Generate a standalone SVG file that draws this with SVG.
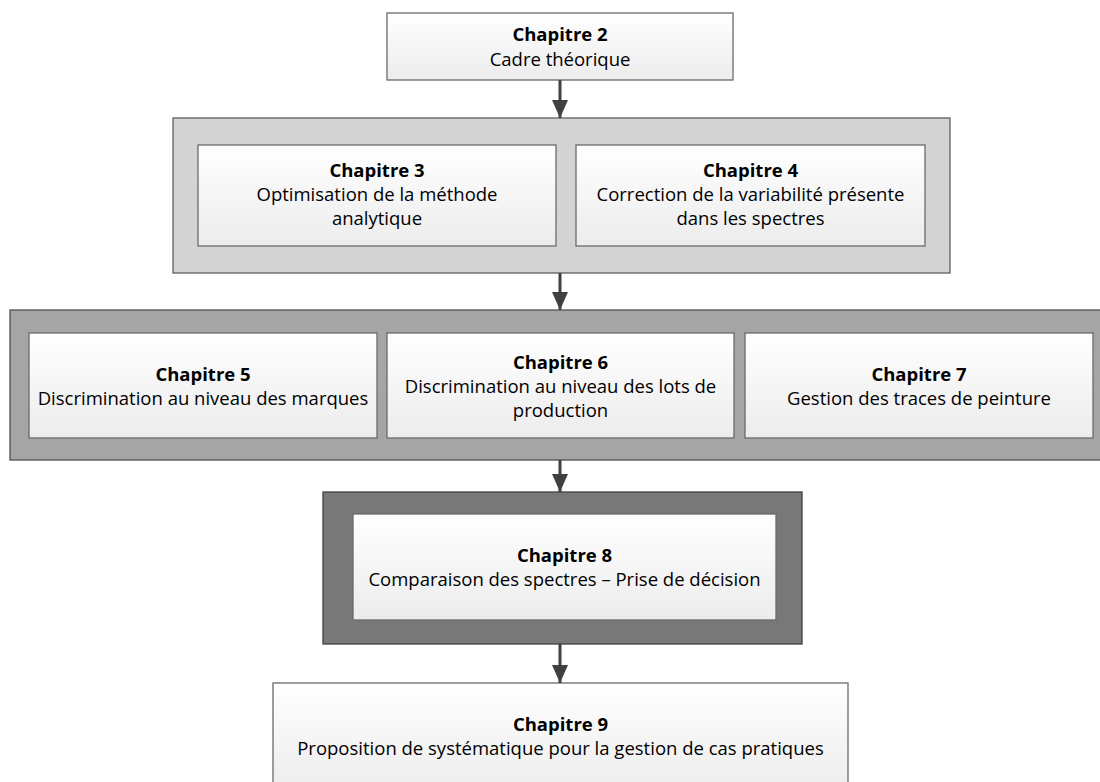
<svg xmlns="http://www.w3.org/2000/svg" width="1100" height="782" viewBox="0 0 1100 782">
<defs>
<linearGradient id="g" x1="0" y1="0" x2="0" y2="1">
<stop offset="0" stop-color="#ffffff"/>
<stop offset="1" stop-color="#ececec"/>
</linearGradient>
<marker id="ah" markerWidth="18" markerHeight="16" refX="18" refY="8" orient="auto" markerUnits="userSpaceOnUse" viewBox="0 0 18 16">
<path d="M0,0 L18,8 L0,16 Z" fill="#404040"/>
</marker>
</defs>
<style>
.box{fill:url(#g);stroke:#6a6a6a;stroke-width:1.3}
.o1{fill:#d3d3d3;stroke:#5f5f5f;stroke-width:1.3}
.o2{fill:#a5a5a5;stroke:#505050;stroke-width:1.3}
.o3{fill:#787878;stroke:#404040;stroke-width:1.3}
text{font-family:"Open Sans","Noto Sans",sans-serif;font-size:18.5px;fill:#000;text-anchor:middle}
.b{font-weight:bold}
.c line{stroke:#404040;stroke-width:3;marker-end:url(#ah)}
</style>
<rect width="1100" height="782" fill="#fff"/>
<g id="n2">
<rect class="box" x="387" y="13" width="346" height="67"/>
<text x="560" y="41" class="b">Chapitre 2</text>
<text x="560" y="65.5">Cadre théorique</text>
</g>
<g id="g1">
<rect class="o1" x="173" y="118" width="777" height="155"/>
</g>
<g id="n3">
<rect class="box" x="198" y="145" width="358" height="101"/>
<text x="377" y="177" class="b">Chapitre 3</text>
<text x="377" y="201">Optimisation de la méthode</text>
<text x="377" y="225">analytique</text>
</g>
<g id="n4">
<rect class="box" x="576" y="145" width="349" height="101"/>
<text x="750.5" y="177" class="b">Chapitre 4</text>
<text x="750.5" y="201">Correction de la variabilité présente</text>
<text x="750.5" y="225">dans les spectres</text>
</g>
<g id="g2">
<rect class="o2" x="10" y="310" width="1110" height="150"/>
</g>
<g id="n5">
<rect class="box" x="29" y="333" width="348" height="105"/>
<text x="203" y="381" class="b">Chapitre 5</text>
<text x="203" y="405">Discrimination au niveau des marques</text>
</g>
<g id="n6">
<rect class="box" x="387" y="333" width="347" height="105"/>
<text x="560.5" y="369" class="b">Chapitre 6</text>
<text x="560.5" y="393">Discrimination au niveau des lots de</text>
<text x="560.5" y="417">production</text>
</g>
<g id="n7">
<rect class="box" x="745" y="333" width="348" height="105"/>
<text x="919" y="381" class="b">Chapitre 7</text>
<text x="919" y="405">Gestion des traces de peinture</text>
</g>
<g id="g3">
<rect class="o3" x="323" y="492" width="479" height="152"/>
</g>
<g id="n8">
<rect class="box" x="353" y="514" width="423" height="106"/>
<text x="564.5" y="562" class="b">Chapitre 8</text>
<text x="564.5" y="586">Comparaison des spectres – Prise de décision</text>
</g>
<g id="n9">
<rect class="box" x="273" y="683" width="575" height="110"/>
<text x="560.5" y="731" class="b">Chapitre 9</text>
<text x="560.5" y="755">Proposition de systématique pour la gestion de cas pratiques</text>
</g>
<g id="connectors" class="c">
<line x1="560" y1="80" x2="560" y2="118"/>
<line x1="560" y1="273" x2="560" y2="310"/>
<line x1="560" y1="460" x2="560" y2="492"/>
<line x1="560" y1="644" x2="560" y2="683"/>
</g>
</svg>
